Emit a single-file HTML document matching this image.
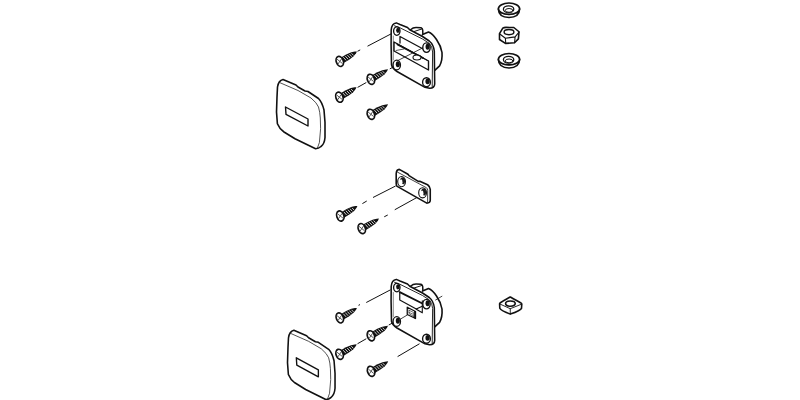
<!DOCTYPE html>
<html><head><meta charset="utf-8">
<style>
html,body{margin:0;padding:0;background:#fff;width:800px;height:400px;overflow:hidden}
svg{display:block}
</style></head><body>
<svg width="800" height="400" viewBox="0 0 800 400">
<defs>
<g id="screw">
  <path d="M2,-2.9 L9,-2.9 L14.5,-2.3 L18,-1.2 L19.8,-0.3 L18.2,0.9 L14.5,2.4 L9,3.1 L2,3.3 Z" fill="#111"/>
  <g stroke="#fff" stroke-width="0.75" stroke-linecap="round" opacity="0.95">
    <line x1="5.2" y1="-1.5" x2="5.9" y2="1.8"/>
    <line x1="7.5" y1="-1.5" x2="8.2" y2="1.8"/>
    <line x1="9.8" y1="-1.4" x2="10.5" y2="1.7"/>
    <line x1="12.1" y1="-1.2" x2="12.7" y2="1.5"/>
    <line x1="14.3" y1="-0.9" x2="14.8" y2="1.2"/>
  </g>
  <ellipse cx="0" cy="0" rx="3.5" ry="5.2" fill="#fff" stroke="#111" stroke-width="1.7" transform="rotate(10)"/>
  <g stroke="#444" stroke-width="0.8">
    <line x1="-1.2" y1="-3" x2="1.2" y2="3"/>
    <line x1="-2.4" y1="1.2" x2="2.4" y2="-1.2"/>
  </g>
</g>
<g id="cover">
  <path d="M283,79.5 L296,85 L298,87 L305,91 L308,91.5 L318.5,98.5 Q322,102 324,110 L325,122.5 L325,137.5 Q324.5,144 321,146.5 Q318.5,148.8 315.6,148.75 L295,138.75 L284,132 Q279.5,129 277.4,123.75 L276.5,112 L277,97 L277.5,87 Q278.5,80.5 283,79.5 Z" fill="#fff" stroke="#111" stroke-width="1.6" stroke-linejoin="round"/>
  <path d="M279.5,82.5 L298,90.5 L311,98 Q317,103 318.5,107 Q320,112 320.3,118 L320.6,128.75 L319.4,142.5 L317.5,147.8" fill="none" stroke="#222" stroke-width="0.8"/>
  <path d="M285.5,107 L308,119 L308,126 L286,114.4 Z" fill="#fff" stroke="#111" stroke-width="1.4" stroke-linejoin="round"/>
</g>
<g id="washer" fill="#fff" stroke="#111">
  <path d="M498.4,59.5 Q498.6,67.8 509,68 Q519.4,67.8 519.6,59.5" stroke-width="1.6"/>
  <ellipse cx="509" cy="59.2" rx="10.6" ry="5.7" stroke-width="1.7"/>
  <path d="M500,63 Q509,67.5 518,63" fill="none" stroke-width="0.6"/>
  <ellipse cx="508.6" cy="59.7" rx="5.2" ry="3.4" stroke-width="1.3"/>
  <ellipse cx="509.1" cy="60.9" rx="3.8" ry="1.9" stroke-width="1.0"/>
</g>
<g id="shell" fill="none" stroke="#111" stroke-linejoin="round">
  <path d="M410.5,29.8 Q413,27.6 416,27.6 L421,27.7 Q422.6,28.5 422.7,30 L422.9,35" fill="#fff" stroke-width="1.5"/>
  <path d="M412.7,32 L421.7,29" stroke-width="1"/>
  <path d="M422.5,34.5 L428.5,32 Q432.5,33.5 436.5,39.5 Q441,46 442,52.5 Q442.6,60.5 439.6,65.8 L435,70.2" fill="#fff" stroke-width="1.6"/>
  <path d="M391.1,45 L391.2,30 Q391.6,23.5 396.25,22.9 L400,24.5 L407.5,27.5 L409.75,29.75 L422.5,36.5 L429.25,41 Q433.5,44.5 434.3,51 L434.7,84 Q434.5,88.3 429.5,88.2 L425,87.3 L397,71.5 Q392.3,68.5 391.5,64.75 Z" fill="#fff" stroke-width="1.55"/>
  <path d="M394.5,25.8 L400,27.8 L422.5,39 L429.5,43.5 Q432.3,46.5 432.6,52 L432.2,87" stroke-width="0.9"/>
  <path d="M393.3,36 L393.3,60" stroke-width="0.5"/>
</g>
<g id="holes" fill="none" stroke="#111"><ellipse cx="396.8" cy="31.1" rx="3.2" ry="4.2" fill="#fff" stroke-width="1.35"/><ellipse cx="397.90" cy="30.30" rx="1.76" ry="2.60" fill="#111" stroke="none"/><ellipse cx="426.5" cy="47.6" rx="3.7" ry="4.8" fill="#fff" stroke-width="1.35"/><ellipse cx="427.60" cy="46.80" rx="2.04" ry="2.98" fill="#111" stroke="none"/><ellipse cx="396.75" cy="65" rx="3.7" ry="4.9" fill="#fff" stroke-width="1.35"/><ellipse cx="397.85" cy="64.20" rx="2.04" ry="3.04" fill="#111" stroke="none"/><ellipse cx="426.5" cy="82.2" rx="3.9" ry="4.5" fill="#fff" stroke-width="1.35"/><ellipse cx="427.60" cy="81.40" rx="2.15" ry="2.79" fill="#111" stroke="none"/></g>
</defs>
<g stroke-linecap="round">
<!-- washers & nut -->
<use href="#washer" transform="translate(0,-50.5)"/>
<use href="#washer"/>
<g fill="#fff" stroke="#111" stroke-width="1.6" stroke-linejoin="round">
  <path d="M502.8,28.2 Q504,27.4 506,27.4 L513.8,27.5 L519,31.75 L518.4,38.9 L514.5,42.8 L505.4,43.4 L499.5,39.5 L499.5,33.7 Z"/>
  <path d="M499.8,34 L505.4,38.2 L515.1,36.9 L519,32.2 M505.4,38.2 L505.7,43 M515.1,36.9 L514.6,42.6" fill="none" stroke-width="1.1"/>
  <ellipse cx="509" cy="32.1" rx="4.9" ry="2.6" stroke-width="1.4"/>
</g>
<g fill="#fff" stroke="#111" stroke-width="1.6" stroke-linejoin="round">
  <path d="M510.25,297 Q509,297.5 500,303 Q499.5,303.5 499.6,304 L499.8,308.3 Q500.5,310.5 510.25,314.1 Q520.5,310.5 521.5,308.3 L521.8,304 Q521.7,303.3 521,303 Q511,297.5 510.25,297 Z"/>
  <path d="M500.3,304.2 L510.25,308.7 L520.8,304.5 M510.25,308.7 L510.25,314" fill="none" stroke-width="0.9"/>
  <ellipse cx="510.4" cy="303.6" rx="4.8" ry="2.6" stroke-width="1.6"/>
</g>

<!-- top assembly -->
<use href="#shell"/>
<g fill="none" stroke="#111" stroke-linejoin="round">
  <path d="M400,43 L400,36.5 L425,50" stroke-width="1.3"/>
  <path d="M394,42 L428.5,61 L428.5,70 L394,51 Z" fill="#fff" stroke-width="1.4"/>
  <path d="M397.5,44.5 L423,58" stroke-width="1.8"/>
  <path d="M396,50.5 L404,49" stroke-width="0.7"/>
  <ellipse cx="417" cy="57.5" rx="4" ry="2.5" stroke-width="1.1" fill="#fff"/>
  <path d="M394,62.5 L424.5,47" stroke-width="0.8"/>
  <path d="M399,45 L428.5,61" stroke-width="0.8"/>
</g>
<use href="#holes"/>
<g stroke="#111" stroke-width="1.0" fill="none" stroke-linecap="butt">
  <path d="M357.5,51.3 L360.2,49.9 M367.5,46.2 L391.6,33.6"/>
  <path d="M357.6,87.4 L366.3,82.5 M389.8,68.9 L392.4,67.5"/>
</g>
<use href="#screw" transform="translate(339.8,61.4) rotate(-29.5)"/>
<use href="#screw" transform="translate(370.9,79.3) rotate(-29.5)"/>
<use href="#screw" transform="translate(339.4,97.2) rotate(-29.5)"/>
<use href="#screw" transform="translate(370.9,114.3) rotate(-29.5)"/>
<use href="#cover"/>

<!-- strike plate -->
<g fill="none" stroke="#111" stroke-linejoin="round">
  <path d="M396.2,183.5 L396.2,173.5 Q396.5,169.6 399.3,169.4 L407.1,173.75 L408.2,174.5 L409,175.6 L418.25,181.4 L419.75,181.2 L427.6,184.75 Q429.9,186.5 430.25,189.25 L430.25,200.5 Q430,203.1 426.8,203.1 L397.2,186.4 Q396.2,185.6 396.2,183.5 Z" fill="#fff" stroke-width="1.6"/>
  <path d="M397.6,172.2 L426.5,187.75 Q427.6,188.6 427.7,190.5 L427.6,202" stroke-width="0.8"/>
  <g id="sh1"><ellipse cx="401.6" cy="181.6" rx="3.9" ry="5.1" fill="#fff" stroke-width="1.1"/>
  <ellipse cx="402.6" cy="181" rx="2.5" ry="3.7" fill="#1a1a1a" stroke="none"/>
  <ellipse cx="401.1" cy="182.3" rx="1.4" ry="3" fill="#fff" stroke="none"/>
  <ellipse cx="402.6" cy="184.8" rx="1.3" ry="0.7" fill="#fff" stroke="none"/></g>
  <use href="#sh1" transform="translate(21,11.2)"/>
</g>
<g stroke="#111" stroke-width="1.0" fill="none" stroke-linecap="butt">
  <path d="M362.4,203.6 L366.75,201 M373,197.5 L395.6,186"/>
  <path d="M384.25,216.75 L387.75,215 M394.75,209.75 L416.9,197.5"/>
</g>
<use href="#screw" transform="translate(340.3,216) rotate(-29.5)"/>
<use href="#screw" transform="translate(361.8,228.6) rotate(-29.5)"/>

<!-- bottom assembly -->
<use href="#shell" transform="translate(0,256.5)"/>
<g fill="none" stroke="#111" stroke-linejoin="round">
  <path d="M399.75,292.1 L399.75,300 L416.25,309 L422.3,306.3" stroke-width="1.2"/>
  <path d="M399.75,292.1 L423.9,304.2" stroke-width="1.8"/>
  <path d="M422.3,300.8 L422.3,312.8 M416.3,309.2 L422.3,312.8" stroke-width="1.1"/>
  <path d="M407.25,307.25 L415.5,311.5 L415.5,318.5 L407.25,314.5 Z" fill="#fff" stroke-width="1.3"/>
  <path d="M409,310.2 L413.6,312.5 L413.6,316.4 M409,310.2 L409,313.6 L413.6,316.4 M409,312.4 L412.6,314" stroke-width="0.6"/>
  <path d="M414.6,311.3 L414.6,318" stroke-width="1.0"/>
  <path d="M399.8,319.5 L407.25,315" stroke-width="0.8"/>
  <path d="M435.6,300 L441.9,296.25" stroke-width="0.8"/>
</g>
<use href="#holes" transform="translate(0,256.5)"/>
<g stroke="#111" stroke-width="1.0" fill="none" stroke-linecap="butt">
  <path d="M358.5,305.3 L360,304.6 M366.25,302.5 L390.5,289.8"/>
  <path d="M357.5,343.75 L366.25,338.75 M388.75,325 L392.5,323"/>
  <path d="M419.5,343.75 L397.6,356.6"/>
</g>
<use href="#screw" transform="translate(339.8,317.9) rotate(-29.5)"/>
<use href="#screw" transform="translate(370.9,335.8) rotate(-29.5)"/>
<use href="#screw" transform="translate(339.6,354.3) rotate(-29.5)"/>
<use href="#screw" transform="translate(371.1,371.3) rotate(-29.5)"/>
<use href="#cover" transform="translate(287.5,0) scale(0.98,1) translate(-276.5,250.8)"/>
</g>
</svg>
</body></html>
